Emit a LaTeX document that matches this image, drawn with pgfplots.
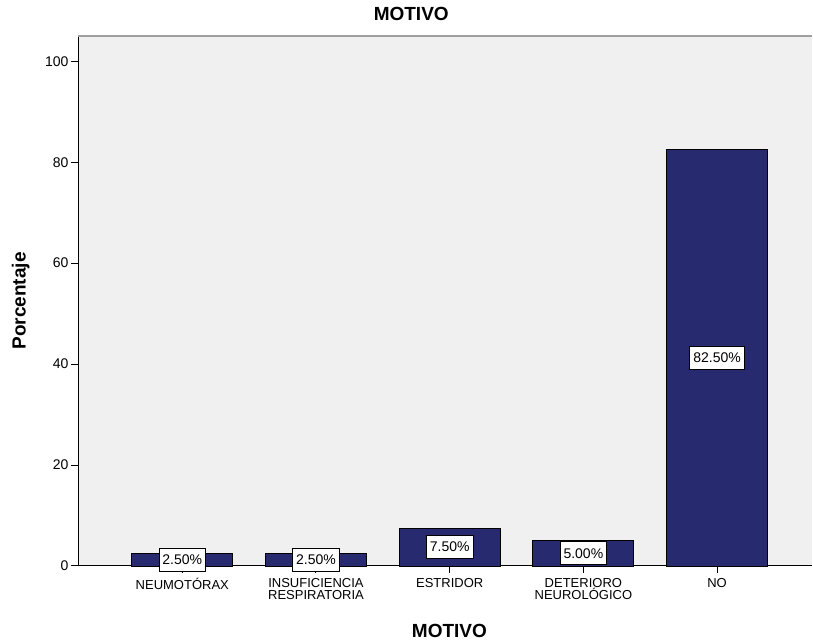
\documentclass[border=0pt]{standalone}
\usepackage{pgfplots}
\usepackage{pgfplotstable}
\pgfplotsset{compat=1.18}
\usepackage{fontspec}
\setmainfont{Liberation Sans}
\definecolor{barnavy}{RGB}{40,42,112}
\definecolor{plotbg}{RGB}{240,240,240}
\pgfplotstableread{
x val
0 2.5
1 2.5
2 7.5
3 5.0
4 82.5
}\datatable
\begin{document}
\begin{tikzpicture}[x=1pt,y=1pt]
\begin{axis}[
  at={(78pt,78pt)}, anchor=south west,
  scale only axis, width=734pt, height=530pt,
  xmin=-0.78, xmax=4.71, ymin=0, ymax=105,
  axis x line*=bottom, axis y line*=left,
  axis line style={black, line width=1pt, -},
  axis background/.style={fill=plotbg},
  xtick={0,1,2,3,4},
  xticklabels={NEUMOTÓRAX,{INSUFICIENCIA\\RESPIRATORIA},ESTRIDOR,{DETERIORO\\NEUROLÓGICO},NO},
  ytick={0,20,40,60,80,100},
  tick align=outside, major tick length=7pt,
  tick style={black, line width=1pt},
  /pgf/number format/assume math mode=true,
  yticklabel style={font=\fontsize{14}{16}\selectfont, xshift=1pt},
  xticklabel style={font=\fontsize{13}{12}\selectfont, align=center, yshift=-2pt},
  title={MOTIVO},
  title style={at={(axis description cs:0.454,1)}, anchor=base, yshift=9pt, font=\fontsize{19}{22}\selectfont\bfseries},
  xlabel={MOTIVO},
  xlabel style={at={(axis description cs:0.506,0)}, anchor=base, yshift=-72pt, font=\fontsize{19}{22}\selectfont\bfseries},
  ylabel={Porcentaje},
  ylabel style={at={(axis description cs:-0.078,0.5)}, anchor=center, rotate=0, font=\fontsize{19}{22}\selectfont\bfseries},
  clip=false,
]
\addplot[ybar, bar width=101pt, fill=barnavy, draw=black, line width=0.8pt] table[x=x, y=val] {\datatable};
\addplot[draw=none, mark=none, point meta=explicit,
  nodes near coords={\pgfmathprintnumber[fixed,fixed zerofill,precision=2]{\pgfplotspointmeta}\%},
  every node near coord/.append style={anchor=center, fill=white, draw=black, line width=0.8pt,
    font=\fontsize{14}{16}\selectfont, inner xsep=3.5pt, inner ysep=0pt, minimum height=23pt, text=black}]
  table[x=x, y expr=\thisrow{val}/2, meta=val] {\datatable};
\draw[gray!75, line width=1.6pt] (rel axis cs:0,1) -- (rel axis cs:1,1);
\end{axis}
\pgfresetboundingbox
\path[use as bounding box] (0,0) rectangle (813pt,644pt);
\end{tikzpicture}
\end{document}
